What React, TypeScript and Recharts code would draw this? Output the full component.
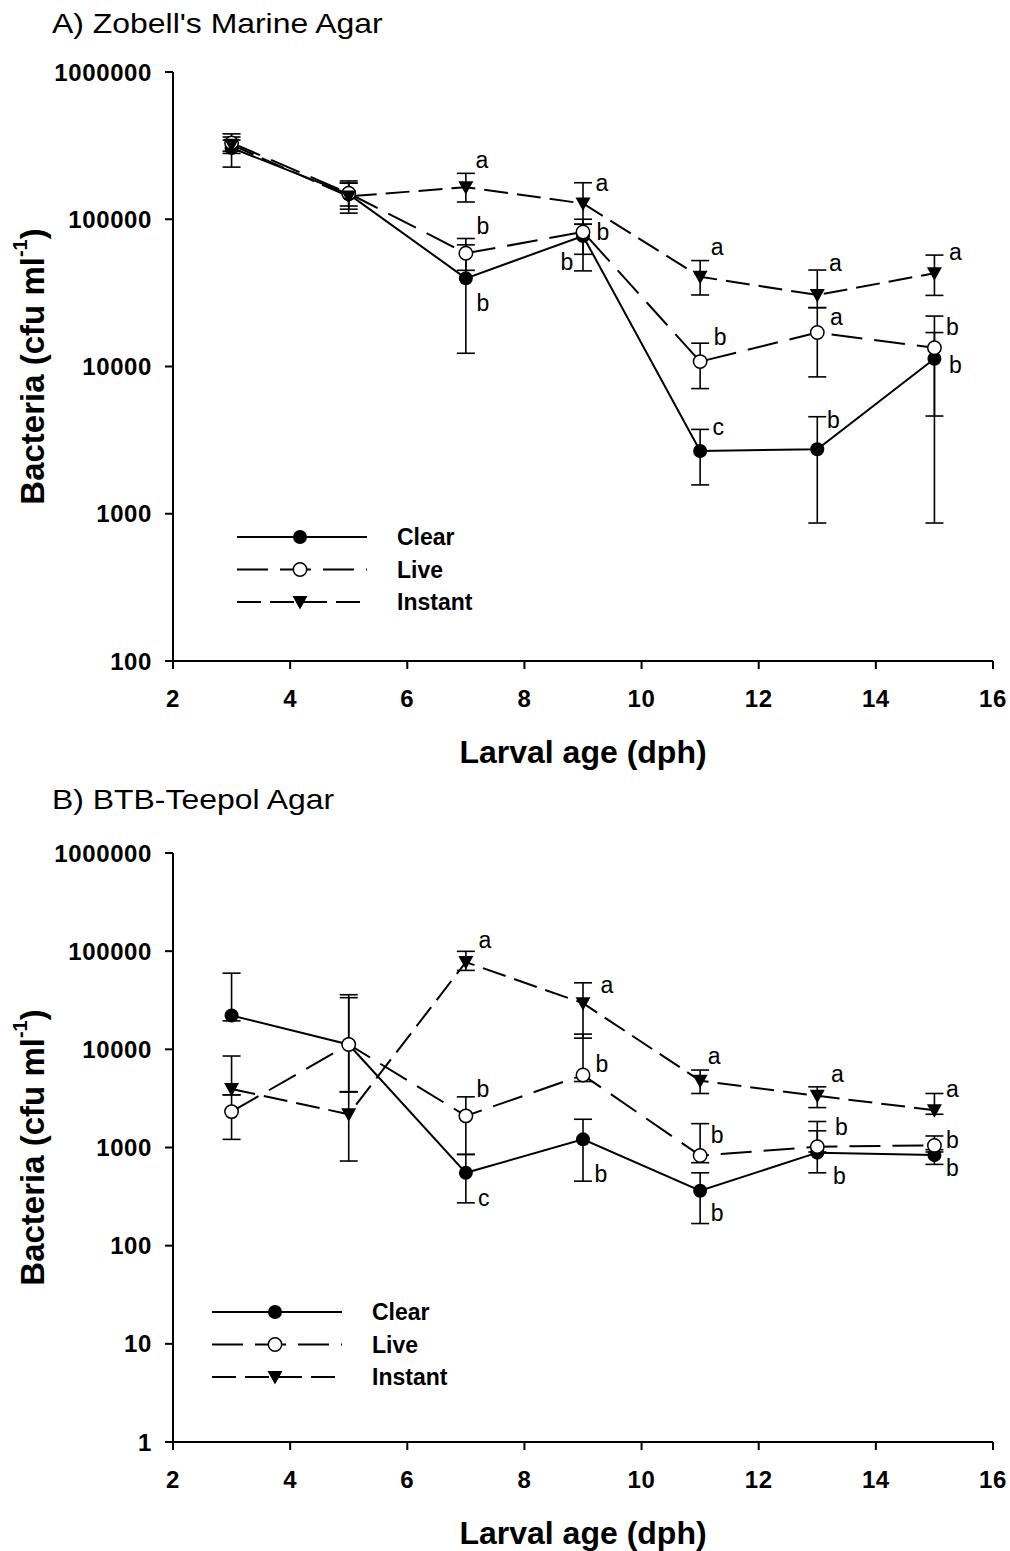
import { ErrorBar, LabelList, Line, LineChart, XAxis, YAxis } from 'recharts';

const FONT = '"Liberation Sans", Arial, Helvetica, sans-serif';

const DAYS = [3, 5, 7, 9, 11, 13, 15];
const X_TICKS = [2, 4, 6, 8, 10, 12, 14, 16];
const SERIES_NAMES = ['Clear', 'Live', 'Instant'];

// A) Zobell's Marine Agar, cfu/ml
const A_CLEAR = [305000, 148000, 39700, 77000, 2670, 2740, 11300];
const A_CLEAR_LO = [226000, 117000, 12300, 44600, 1570, 865, 865];
const A_CLEAR_HI = [345000, 176000, 67000, 100000, 3740, 4560, 17000];
const A_LIVE = [330000, 150000, 58700, 82000, 10800, 17000, 13400];
const A_LIVE_LO = [290000, 123000, 45000, 57800, 7080, 8500, 4610];
const A_LIVE_HI = [380000, 182000, 74000, 92500, 14400, 25100, 22000];
const A_INSTANT = [320000, 143000, 165000, 128000, 40700, 30600, 43000];
const A_INSTANT_LO = [280000, 110000, 131000, 92500, 30600, 25100, 30400];
const A_INSTANT_HI = [362000, 176000, 205000, 177000, 52400, 45200, 57100];
const A_CLEAR_TAGS = ['', '', 'b', 'b', 'c', 'b', 'b'];
const A_LIVE_TAGS = ['', '', 'b', 'b', 'b', 'a', 'b'];
const A_INSTANT_TAGS = ['', '', 'a', 'a', 'a', 'a', 'a'];
const A_Y_TICKS = [100, 1000, 10000, 100000, 1000000];

// B) BTB-Teepol Agar, cfu/ml
const B_CLEAR = [22100, 11200, 552, 1210, 363, 886, 838];
const B_CLEAR_LO = [19500, 3700, 273, 454, 168, 552, 673];
const B_CLEAR_HI = [59700, 36000, 850, 1940, 552, 1480, 900];
const B_LIVE = [2320, 11200, 2100, 5470, 828, 1020, 1050];
const B_LIVE_LO = [1210, 3700, 850, 4700, 700, 900, 950];
const B_LIVE_HI = [3440, 33600, 3280, 14300, 1750, 1840, 1310];
const B_INSTANT = [3940, 2180, 77400, 29500, 4790, 3360, 2400];
const B_INSTANT_LO = [3440, 728, 63700, 13000, 3550, 2550, 2180];
const B_INSTANT_HI = [8550, 3690, 99600, 47600, 6150, 4150, 3550];
const B_CLEAR_TAGS = ['', '', 'c', 'b', 'b', 'b', 'b'];
const B_LIVE_TAGS = ['', '', 'b', 'b', 'b', 'b', 'b'];
const B_INSTANT_TAGS = ['', '', 'a', 'a', 'a', 'a', 'a'];
const B_Y_TICKS = [1, 10, 100, 1000, 10000, 100000, 1000000];

// where each significance letter sits relative to its point (px)
const A_CLEAR_TAG_POS = [[0, 0], [0, 0], [17, 25], [-16, 26], [18, -24], [16, -29], [21, 6]];
const A_LIVE_TAG_POS = [[0, 0], [0, 0], [17, -27], [20, 0], [20, -25], [19, -16], [18, -21]];
const A_INSTANT_TAG_POS = [[0, 0], [0, 0], [16, -27], [19, -20], [17, -30], [18, -32], [21, -21]];
const B_CLEAR_TAG_POS = [[0, 0], [0, 0], [18, 25], [18, 35], [17, 22], [22, 23], [18, 13]];
const B_LIVE_TAG_POS = [[0, 0], [0, 0], [17, -27], [19, -11], [17, -21], [24, -20], [18, -5]];
const B_INSTANT_TAG_POS = [[0, 0], [0, 0], [19, -22], [24, -18], [14, -25], [20, -22], [18, -21]];

interface Series {
  values: number[];
  lo: number[];
  hi: number[];
  tags: string[];
  tagPos: number[][];
}

function buildRows(clear: Series, live: Series, instant: Series) {
  return DAYS.map((day, i) => ({
    day,
    clear: clear.values[i],
    clearErr: [clear.values[i] - clear.lo[i], clear.hi[i] - clear.values[i]],
    clearTag: clear.tags[i],
    live: live.values[i],
    liveErr: [live.values[i] - live.lo[i], live.hi[i] - live.values[i]],
    liveTag: live.tags[i],
    instant: instant.values[i],
    instantErr: [instant.values[i] - instant.lo[i], instant.hi[i] - instant.values[i]],
    instantTag: instant.tags[i],
  }));
}

// eslint-disable-next-line @typescript-eslint/no-explicit-any
function ClearDot(props: any) {
  const { cx, cy, index } = props;
  return <circle key={`c-${index}`} cx={cx} cy={cy} r={7} fill="#000" />;
}

// eslint-disable-next-line @typescript-eslint/no-explicit-any
function LiveDot(props: any) {
  const { cx, cy, index } = props;
  return <circle key={`l-${index}`} cx={cx} cy={cy} r={6.7} fill="#fff" stroke="#000" strokeWidth={1.5} />;
}

// eslint-disable-next-line @typescript-eslint/no-explicit-any
function InstantDot(props: any) {
  const { cx, cy, index } = props;
  return (
    <polygon
      key={`i-${index}`}
      points={`${cx - 7.5},${cy - 6} ${cx + 7.5},${cy - 6} ${cx},${cy + 7.5}`}
      fill="#000"
    />
  );
}

function tagContent(pos: number[][]) {
  // eslint-disable-next-line @typescript-eslint/no-explicit-any
  return (props: any) => {
    const { value, index, viewBox } = props;
    if (!value) return null;
    const px = viewBox ? viewBox.x + (viewBox.width || 0) / 2 : props.x;
    const py = viewBox ? viewBox.y + (viewBox.height || 0) / 2 : props.y;
    const [dx, dy] = pos[index];
    return (
      <text
        x={px + dx}
        y={py + dy}
        textAnchor="middle"
        dominantBaseline="central"
        fontSize={23}
        fontFamily={FONT}
        fill="#000"
      >
        {value}
      </text>
    );
  };
}

// eslint-disable-next-line @typescript-eslint/no-explicit-any
function XTitle(props: any) {
  const { x, y, width } = props.viewBox;
  return (
    <text
      x={x + width / 2}
      y={y + 91}
      textAnchor="middle"
      dominantBaseline="central"
      fontSize={32}
      fontWeight="bold"
      fontFamily={FONT}
      fill="#000"
    >
      Larval age (dph)
    </text>
  );
}

// eslint-disable-next-line @typescript-eslint/no-explicit-any
function YTitle(props: any) {
  const { x, y, height } = props.viewBox;
  const cx = x - 41;
  const cy = y + height / 2;
  return (
    <text
      x={cx}
      y={cy}
      transform={`rotate(-90, ${cx}, ${cy})`}
      textAnchor="middle"
      dominantBaseline="central"
      fontSize={33}
      fontWeight="bold"
      fontFamily={FONT}
      fill="#000"
    >
      Bacteria (cfu ml
      <tspan dy={-12} fontSize={20}>
        -1
      </tspan>
      <tspan dy={12}>)</tspan>
    </text>
  );
}

function LegendBox({ left, top }: { left: number; top: number }) {
  const rows = [
    { dash: undefined, dot: 'clear' },
    { dash: '31 12', dot: 'live' },
    { dash: '24 9', dot: 'instant' },
  ];
  return (
    <svg width={300} height={110} style={{ position: 'absolute', left, top }}>
      {rows.map((r, i) => {
        const y = 16 + i * 32.5;
        const mx = 63;
        return (
          <g key={i}>
            <line x1={0} y1={y} x2={130} y2={y} stroke="#000" strokeWidth={2} strokeDasharray={r.dash} />
            {r.dot === 'clear' && <circle cx={mx} cy={y} r={7} fill="#000" />}
            {r.dot === 'live' && <circle cx={mx} cy={y} r={6.7} fill="#fff" stroke="#000" strokeWidth={1.5} />}
            {r.dot === 'instant' && (
              <polygon points={`${mx - 7.5},${y - 6} ${mx + 7.5},${y - 6} ${mx},${y + 7.5}`} fill="#000" />
            )}
            <text
              x={160}
              y={y}
              dominantBaseline="central"
              fontSize={23}
              fontWeight="bold"
              fontFamily={FONT}
              fill="#000"
            >
              {SERIES_NAMES[i]}
            </text>
          </g>
        );
      })}
    </svg>
  );
}

const tickStyle = { fill: '#000', fontSize: 24, fontWeight: 'bold', fontFamily: FONT, letterSpacing: 0.6 };
const axisLine = { stroke: '#000', strokeWidth: 2 };
const tickLine = { stroke: '#000', strokeWidth: 2 };

function Panel({
  top,
  height,
  plotTop,
  yDomain,
  yTicks,
  clear,
  live,
  instant,
}: {
  top: number;
  height: number;
  plotTop: number;
  yDomain: [number, number];
  yTicks: number[];
  clear: Series;
  live: Series;
  instant: Series;
}) {
  const rows = buildRows(clear, live, instant);
  const plotBottom = plotTop + 589;
  return (
    <div style={{ position: 'absolute', left: 0, top }}>
      <LineChart
        width={1010}
        height={height}
        data={rows}
        margin={{ top: plotTop, right: 17, left: 73, bottom: height - plotBottom - 60 }}
      >
        <XAxis
          dataKey="day"
          type="number"
          domain={[2, 16]}
          ticks={X_TICKS}
          interval={0}
          height={60}
          tick={tickStyle}
          tickSize={8}
          tickMargin={21}
          axisLine={axisLine}
          tickLine={tickLine}
          label={XTitle}
        />
        <YAxis
          type="number"
          scale="log"
          domain={yDomain}
          ticks={yTicks}
          interval={0}
          allowDataOverflow
          width={100}
          tick={tickStyle}
          tickSize={8}
          tickMargin={13}
          axisLine={axisLine}
          tickLine={tickLine}
          label={YTitle}
        />
        <Line
          dataKey="clear"
          name="Clear"
          stroke="#000"
          strokeWidth={2}
          dot={ClearDot}
          activeDot={false}
          isAnimationActive={false}
        >
          <ErrorBar dataKey="clearErr" direction="y" width={9} stroke="#000" strokeWidth={1.6} isAnimationActive={false} />
          <LabelList dataKey="clearTag" content={tagContent(clear.tagPos)} />
        </Line>
        <Line
          dataKey="live"
          name="Live"
          stroke="#000"
          strokeWidth={2}
          strokeDasharray="31 12"
          dot={LiveDot}
          activeDot={false}
          isAnimationActive={false}
        >
          <ErrorBar dataKey="liveErr" direction="y" width={9} stroke="#000" strokeWidth={1.6} isAnimationActive={false} />
          <LabelList dataKey="liveTag" content={tagContent(live.tagPos)} />
        </Line>
        <Line
          dataKey="instant"
          name="Instant"
          stroke="#000"
          strokeWidth={2}
          strokeDasharray="24 9"
          dot={InstantDot}
          activeDot={false}
          isAnimationActive={false}
        >
          <ErrorBar dataKey="instantErr" direction="y" width={9} stroke="#000" strokeWidth={1.6} isAnimationActive={false} />
          <LabelList dataKey="instantTag" content={tagContent(instant.tagPos)} />
        </Line>
      </LineChart>
    </div>
  );
}

const titleStyle = {
  position: 'absolute' as const,
  left: 52,
  fontFamily: FONT,
  fontSize: 28,
  lineHeight: 1,
  color: '#000',
  transform: 'scaleX(1.14)',
  transformOrigin: 'left top',
  whiteSpace: 'nowrap' as const,
};

export default function App() {
  return (
    <div style={{ position: 'absolute', left: 0, top: 0, width: 1010, height: 1551, background: '#fff' }}>
      <div style={{ ...titleStyle, top: 10 }}>A) Zobell's Marine Agar</div>
      <Panel
        top={0}
        height={780}
        plotTop={72}
        yDomain={[100, 1000000]}
        yTicks={A_Y_TICKS}
        clear={{ values: A_CLEAR, lo: A_CLEAR_LO, hi: A_CLEAR_HI, tags: A_CLEAR_TAGS, tagPos: A_CLEAR_TAG_POS }}
        live={{ values: A_LIVE, lo: A_LIVE_LO, hi: A_LIVE_HI, tags: A_LIVE_TAGS, tagPos: A_LIVE_TAG_POS }}
        instant={{ values: A_INSTANT, lo: A_INSTANT_LO, hi: A_INSTANT_HI, tags: A_INSTANT_TAGS, tagPos: A_INSTANT_TAG_POS }}
      />
      <LegendBox left={237} top={521} />

      <div style={{ ...titleStyle, top: 786 }}>B) BTB-Teepol Agar</div>
      <Panel
        top={780}
        height={771}
        plotTop={73}
        yDomain={[1, 1000000]}
        yTicks={B_Y_TICKS}
        clear={{ values: B_CLEAR, lo: B_CLEAR_LO, hi: B_CLEAR_HI, tags: B_CLEAR_TAGS, tagPos: B_CLEAR_TAG_POS }}
        live={{ values: B_LIVE, lo: B_LIVE_LO, hi: B_LIVE_HI, tags: B_LIVE_TAGS, tagPos: B_LIVE_TAG_POS }}
        instant={{ values: B_INSTANT, lo: B_INSTANT_LO, hi: B_INSTANT_HI, tags: B_INSTANT_TAGS, tagPos: B_INSTANT_TAG_POS }}
      />
      <LegendBox left={212} top={1296} />
    </div>
  );
}
